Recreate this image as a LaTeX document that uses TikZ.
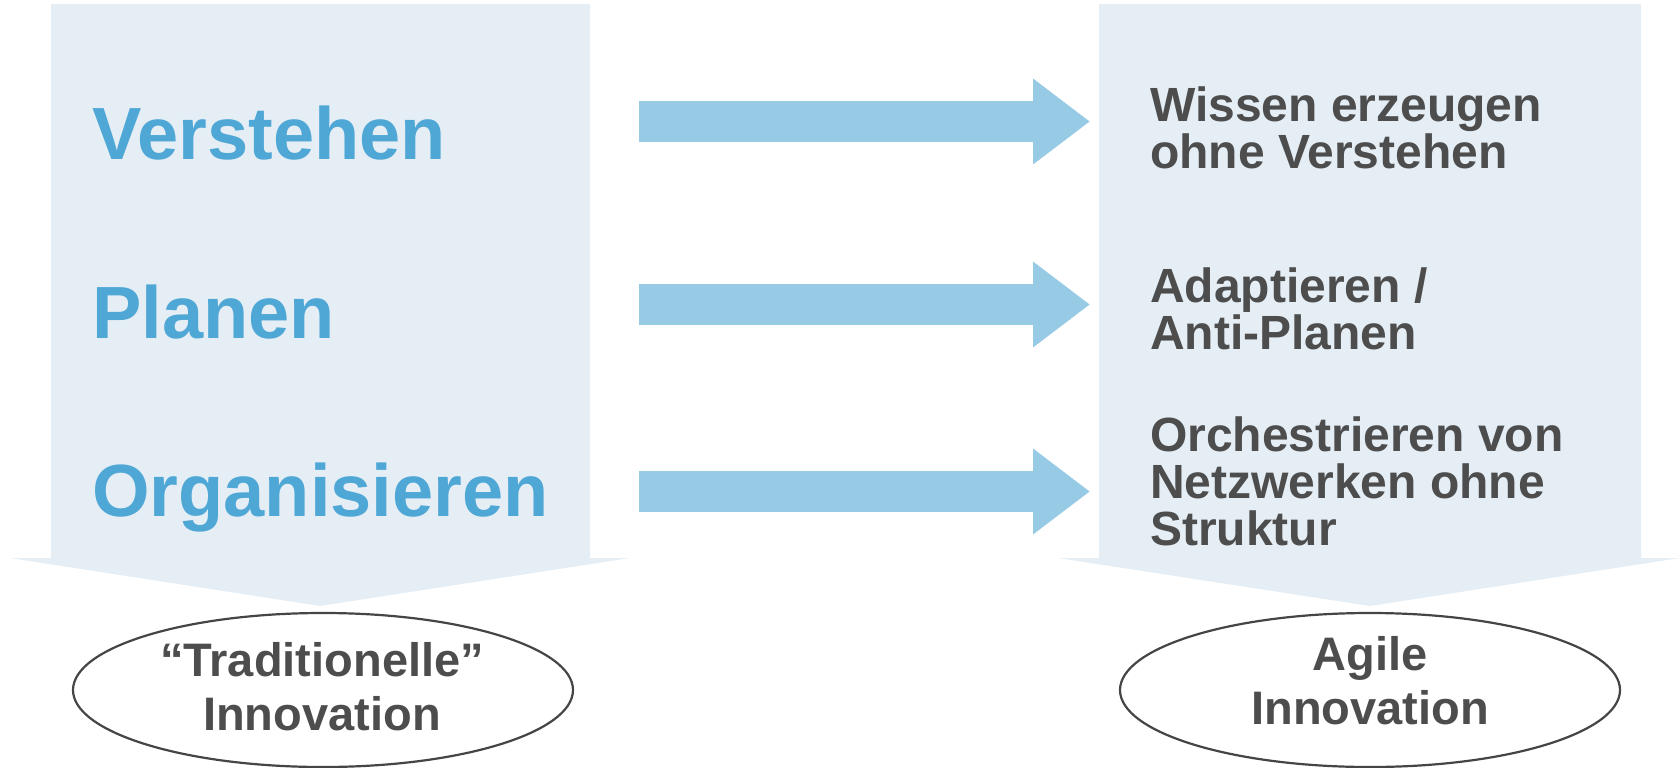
\documentclass[tikz,border=0pt]{standalone}
\usepackage{fontspec}
\setmainfont{Liberation Sans}
\usetikzlibrary{arrows.meta,shapes.geometric}

\definecolor{panel}{HTML}{E5EEF5}
\definecolor{flow}{HTML}{97CAE5}
\definecolor{headblue}{HTML}{4FA7D6}
\definecolor{ink}{HTML}{4D4D4D}
\definecolor{rim}{HTML}{454545}

\begin{document}
\begin{tikzpicture}[x=1bp, y=-1bp,
  panelshape/.style={fill=panel, draw=none},
  concept/.style={anchor=base west, inner sep=0pt, text=headblue,
    font=\fontsize{74bp}{80bp}\selectfont\bfseries},
  % multi-line nodes: the base anchor sits on the last line
  practice/.style={anchor=base west, inner sep=0pt, text=ink, align=left,
    font=\fontsize{48bp}{47bp}\selectfont\bfseries},
  outcome/.style={ellipse, draw=rim, line width=2.2bp, fill=white,
    minimum width=500bp, minimum height=154bp, inner sep=0pt},
  outcometext/.style={text=ink, align=center, inner sep=0pt,
    font=\fontsize{47bp}{54bp}\selectfont\bfseries},
  flowarrow/.style={draw=flow, line width=41bp,
    -{Triangle[length=57bp 0 0, width=82bp 0 0]}}
]
\useasboundingbox (0,0) rectangle (1680,768);

% downward chevron panels
\fill[panelshape] (51,4) -- (590,4) -- (590,558) -- (630,558) -- (320,606)
  -- (10,558) -- (51,558) -- cycle;
\fill[panelshape] (1099,4) -- (1641,4) -- (1641,558) -- (1680,558) -- (1370,606)
  -- (1058,558) -- (1099,558) -- cycle;

% classic concepts
\node[concept] (verstehen) at (92,159) {Verstehen};
\node[concept] (planen) at (92,338) {Planen};
\node[concept] (organisieren) at (92,516) {Organisieren};

% agile counterparts
\node[practice] (wissen) at (1150,168) {Wissen erzeugen\\ohne Verstehen};
\node[practice] (adapt) at (1150,349) {Adaptieren /\\Anti-Planen};
\node[practice] (orch) at (1150,545) {Orchestrieren von\\Netzwerken ohne\\Struktur};

% block arrows between the two sides
\coordinate (a1s) at (639,121.5);
\coordinate (a1e) at (1090,121.5);
\coordinate (a2s) at (639,304.5);
\coordinate (a2e) at (1090,304.5);
\coordinate (a3s) at (639,491.5);
\coordinate (a3e) at (1090,491.5);
\draw[flowarrow] (a1s) -- (a1e);
\draw[flowarrow] (a2s) -- (a2e);
\draw[flowarrow] (a3s) -- (a3e);

% results
\node[outcome] (trad) at (323,690) {};
\node[outcometext] (tradtext) at (322,687) {“Traditionelle”\\Innovation};
\node[outcome] (agile) at (1370,690) {};
\node[outcometext] (agiletext) at (1370,681) {Agile\\Innovation};
\end{tikzpicture}
\end{document}
